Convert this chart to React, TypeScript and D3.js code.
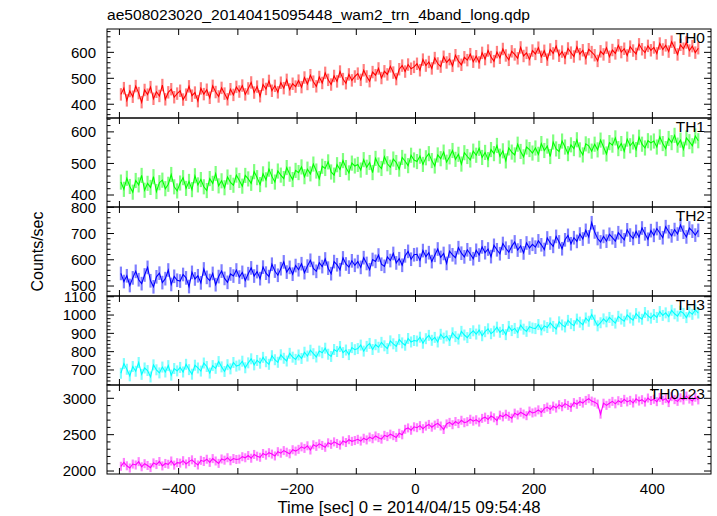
import React from "react";
import * as d3 from "d3";

const TITLE = "ae508023020_20140415095448_wam2_trn_4band_long.qdp";
const X_LABEL = "Time [sec] 0 = 2014/04/15 09:54:48";
const Y_LABEL = "Counts/sec";

// bin start times (5 s bins)
const TIMES: number[] = d3.range(-500, 476, 5);

const TH0 = [
  438, 462, 415, 451, 429, 470, 443, 408, 455, 437, 466, 421, 448, 432, 474, 419, 446, 458, 427, 441,
  452, 418, 437, 469, 433, 445, 412, 461, 439, 456, 425, 471, 447, 430, 463, 441, 419, 458, 436, 467,
  449, 472, 438, 461, 484, 445, 468, 431, 476, 459, 490, 452, 471, 446, 483, 462, 494, 457, 479, 468,
  491, 466, 503, 478, 512, 487, 469, 505, 482, 521, 494, 476, 509, 488, 526, 497, 481, 515, 492, 507,
  518, 494, 531, 507, 489, 524, 512, 538, 501, 527, 515, 546, 522, 497, 535, 549, 526, 553, 537, 544,
  556, 531, 572, 549, 563, 538, 578, 557, 545, 583, 561, 574, 548, 589, 566, 552, 581, 570, 593, 564,
  585, 561, 598, 574, 607, 582, 566, 601, 579, 613, 588, 571, 604, 592, 577, 619, 586, 598, 573, 607,
  594, 618, 583, 606, 572, 611, 596, 624, 587, 603, 578, 615, 599, 584, 621, 593, 608, 577, 612, 601,
  589, 567, 604, 592, 618, 583, 609, 596, 627, 601, 614, 588, 622, 607, 594, 631, 612, 599, 625, 608,
  619, 596, 634, 611, 627, 603, 641, 618, 592, 629, 614, 638, 607, 624, 599, 616,
];

const TH1 = [
  441, 418, 453, 427, 409, 446, 432, 462, 415, 437, 424, 458, 411, 439, 447, 420, 434, 465, 426, 413,
  438, 455, 421, 443, 417, 461, 432, 449, 426, 414, 452, 437, 468, 429, 445, 423, 457, 440, 431, 463,
  446, 428, 462, 451, 437, 474, 455, 433, 467, 448, 482, 459, 441, 476, 463, 452, 487, 466, 449, 478,
  471, 489, 458, 482, 467, 498, 476, 452, 491, 484, 505, 473, 463, 496, 481, 509, 487, 470, 501, 492,
  497, 479, 512, 488, 503, 471, 516, 495, 484, 521, 499, 488, 514, 503, 482, 519, 507, 493, 526, 511,
  506, 523, 497, 518, 531, 509, 492, 527, 515, 536, 504, 521, 541, 513, 529, 498, 534, 522, 511, 539,
  526, 548, 519, 535, 512, 544, 531, 557, 523, 540, 508, 549, 536, 527, 561, 538, 521, 552, 544, 533,
  549, 529, 563, 541, 555, 522, 568, 546, 538, 571, 552, 531, 559, 547, 575, 543, 527, 562, 556, 539,
  561, 543, 574, 552, 530, 566, 558, 581, 547, 563, 539, 577, 556, 568, 544, 583, 561, 549, 572, 565,
  571, 552, 584, 563, 547, 579, 566, 589, 558, 574, 545, 581, 569, 556, 587, 572,
];

const TH2 = [
  548, 517, 539, 502, 531, 556, 524, 509, 542, 571, 520, 497, 535, 549, 513, 528, 561, 506, 537, 522,
  519, 544, 531, 498, 552, 527, 539, 512, 565, 533, 521, 548, 505, 536, 557, 529, 514, 546, 538, 561,
  534, 552, 521, 547, 569, 538, 555, 528, 572, 549, 536, 583, 557, 541, 566, 592, 553, 571, 545, 578,
  562, 585, 551, 576, 598, 567, 556, 589, 574, 603, 568, 547, 593, 581, 562, 607, 584, 572, 596, 579,
  593, 571, 608, 586, 562, 601, 594, 618, 583, 575, 611, 597, 624, 588, 604, 579, 615, 632, 602, 619,
  621, 598, 635, 612, 627, 593, 617, 641, 609, 624, 586, 633, 619, 608, 646, 625, 611, 638, 622, 604,
  636, 618, 649, 627, 641, 612, 655, 638, 623, 662, 644, 629, 651, 668, 637, 653, 626, 664, 645, 659,
  648, 672, 657, 639, 683, 664, 651, 689, 668, 642, 676, 693, 661, 684, 670, 698, 679, 712, 687, 741,
  706, 681, 668, 689, 671, 697, 684, 671, 703, 689, 676, 714, 694, 681, 708, 686, 721, 699, 678, 711,
  693, 719, 702, 684, 726, 707, 691, 715, 698, 732, 705, 687, 721, 709, 694, 712,
];

const TH3 = [
  682, 735, 704, 668, 719, 693, 741, 676, 711, 697, 662, 728, 701, 684, 716, 689, 724, 672, 708, 695,
  714, 689, 731, 702, 677, 726, 711, 694, 738, 719, 683, 724, 709, 746, 717, 692, 729, 706, 741, 721,
  727, 748, 712, 739, 761, 728, 752, 737, 769, 745, 731, 778, 756, 742, 783, 764, 749, 791, 770, 758,
  782, 763, 797, 776, 808, 789, 771, 803, 794, 819, 786, 774, 812, 801, 828, 795, 809, 784, 822, 811,
  817, 836, 803, 829, 845, 812, 838, 824, 851, 832, 817, 859, 843, 829, 866, 848, 835, 872, 853, 861,
  858, 879, 846, 871, 889, 862, 878, 853, 895, 874, 886, 861, 903, 882, 869, 911, 891, 877, 899, 914,
  896, 918, 887, 909, 925, 898, 912, 934, 906, 921, 893, 938, 915, 927, 904, 945, 923, 911, 936, 929,
  926, 948, 919, 941, 932, 957, 938, 924, 963, 946, 935, 971, 953, 942, 978, 961, 947, 984, 966, 1003,
  972, 941, 958, 979, 963, 987, 971, 956, 993, 978, 966, 1001, 984, 972, 1008, 989, 977, 1014, 996, 983,
  1003, 987, 1019, 998, 1012, 991, 1026, 1007, 994, 1021, 1009, 986, 1017, 1004, 1028, 1011,
];

const TH0123 = [
  2065, 2118, 2072, 2041, 2096, 2083, 2129, 2058, 2101, 2076, 2047, 2112, 2089, 2131, 2070, 2104, 2093, 2138, 2081, 2115,
  2108, 2142, 2097, 2129, 2154, 2116, 2083, 2147, 2131, 2162, 2119, 2171, 2138, 2105, 2166, 2149, 2183, 2141, 2172, 2158,
  2164, 2197, 2182, 2213, 2176, 2228, 2204, 2189, 2241, 2218, 2252, 2233, 2207, 2266, 2245, 2281, 2259, 2237, 2293, 2274,
  2298, 2332, 2311, 2347, 2289, 2361, 2339, 2374, 2352, 2326, 2388, 2367, 2401, 2379, 2357, 2414, 2392, 2431, 2408, 2419,
  2436, 2412, 2451, 2428, 2467, 2444, 2482, 2459, 2438, 2491, 2473, 2507, 2486, 2462, 2519, 2498, 2574, 2593, 2561, 2608,
  2596, 2624, 2582, 2617, 2641, 2603, 2632, 2655, 2619, 2571, 2648, 2669, 2637, 2681, 2652, 2698, 2664, 2679, 2712, 2686,
  2705, 2673, 2724, 2741, 2709, 2756, 2732, 2692, 2768, 2745, 2781, 2753, 2727, 2796, 2771, 2808, 2784, 2761, 2824, 2799,
  2812, 2841, 2806, 2858, 2879, 2847, 2893, 2866, 2912, 2884, 2927, 2903, 2876, 2941, 2918, 2956, 2934, 2971, 2995, 2962,
  2947, 2921, 2782, 2933, 2903, 2931, 2958, 2924, 2967, 2943, 2986, 2951, 2972, 2935, 2993, 2962, 2981, 2948, 3004, 2969,
  2987, 2954, 3012, 2973, 2996, 2941, 3023, 2982, 2958, 3007, 2976, 3031, 2989, 2962, 3015, 2978,
];

const PANEL_NAMES = ["TH0", "TH1", "TH2", "TH3", "TH0123"];
const PANEL_SERIES = [TH0, TH1, TH2, TH3, TH0123];
const PANEL_COLORS = ["#ff0000", "#00ff00", "#0000ff", "#00ffff", "#ff00ff"];
const PANEL_DOMAINS: [number, number][] = [
  [347, 690],
  [362, 644],
  [462, 801],
  [618, 1104],
  [1959, 3183],
];
const PANEL_MAJOR = [
  [400, 500, 600],
  [400, 500, 600],
  [500, 600, 700, 800],
  [700, 800, 900, 1000, 1100],
  [2000, 2500, 3000],
];
const PANEL_MINOR_STEP = [20, 20, 20, 20, 100];
const PANEL_ERRORS = [24, 24, 26, 30, 62];

const X_DOMAIN: [number, number] = [-521, 499];
const X_TICKS = [-500, -400, -300, -200, -100, 0, 100, 200, 300, 400];
const X_TICK_LABELS = [-400, -200, 0, 200, 400];

const W = 717;
const H = 516;
const LEFT = 107;
const RIGHT = 711;
const TOP = 29;
const PANEL_H = 89;
const FONT = "'Liberation Sans', Arial, Helvetica, sans-serif";

function fmt(v: number) {
  return v < 0 ? "\u2212" + Math.abs(v) : String(v);
}

export default function App() {
  const x = d3.scaleLinear().domain(X_DOMAIN).range([LEFT, RIGHT]);
  const bottom = TOP + PANEL_H * PANEL_NAMES.length;

  return (
    <svg
      width={W}
      height={H}
      viewBox={`0 0 ${W} ${H}`}
      style={{ position: "absolute", left: 0, top: 0, background: "#fff" }}
      fontFamily={FONT}
    >
      <text x={LEFT} y={20} fontSize={15.5} fill="#000" textLength={423} lengthAdjust="spacingAndGlyphs">
        {TITLE}
      </text>
      {PANEL_NAMES.map((name, i) => {
        const top = TOP + i * PANEL_H;
        const bot = top + PANEL_H;
        const y = d3.scaleLinear().domain(PANEL_DOMAINS[i]).range([bot, top]);
        const data = PANEL_SERIES[i];
        const err = PANEL_ERRORS[i];
        const line = d3
          .line<number>()
          .x((_, k) => x(TIMES[k] + 2.5))
          .y((d) => y(d));
        const step = PANEL_MINOR_STEP[i];
        const minor = d3
          .range(Math.ceil(PANEL_DOMAINS[i][0] / step) * step, PANEL_DOMAINS[i][1] + 0.001, step)
          .filter((v) => !PANEL_MAJOR[i].includes(v));
        const clipId = `clip${i}`;
        return (
          <g key={name}>
            <defs>
              <clipPath id={clipId}>
                <rect x={LEFT} y={top} width={RIGHT - LEFT} height={PANEL_H} />
              </clipPath>
            </defs>
            <g clipPath={`url(#${clipId})`}>
              {data.map((d, k) => (
                <line
                  key={k}
                  x1={x(TIMES[k] + 2.5)}
                  x2={x(TIMES[k] + 2.5)}
                  y1={y(d - err)}
                  y2={y(d + err)}
                  stroke={PANEL_COLORS[i]}
                  strokeOpacity={0.5}
                  strokeWidth={2.2}
                />
              ))}
              <path d={line(data) || ""} fill="none" stroke={PANEL_COLORS[i]} strokeWidth={1.1} />
            </g>
            <rect x={LEFT} y={top} width={RIGHT - LEFT} height={PANEL_H} fill="none" stroke="#000" strokeWidth={1} />
            {X_TICKS.map((t) => (
              <g key={t}>
                <line x1={x(t)} x2={x(t)} y1={top} y2={top + 6} stroke="#000" />
                <line x1={x(t)} x2={x(t)} y1={bot} y2={bot - 6} stroke="#000" />
              </g>
            ))}
            {PANEL_MAJOR[i].map((v) => (
              <g key={v}>
                <line x1={LEFT} x2={LEFT + 7} y1={y(v)} y2={y(v)} stroke="#000" />
                <line x1={RIGHT} x2={RIGHT - 7} y1={y(v)} y2={y(v)} stroke="#000" />
                <text x={96} y={y(v)} dy="0.36em" textAnchor="end" fontSize={15} fill="#000">
                  {v}
                </text>
              </g>
            ))}
            {minor.map((v) => (
              <g key={"m" + v}>
                <line x1={LEFT} x2={LEFT + 3.5} y1={y(v)} y2={y(v)} stroke="#000" />
                <line x1={RIGHT} x2={RIGHT - 3.5} y1={y(v)} y2={y(v)} stroke="#000" />
              </g>
            ))}
            <text x={705} y={top + 14} textAnchor="end" fontSize={15.5} fill="#000">
              {name}
            </text>
          </g>
        );
      })}
      {X_TICK_LABELS.map((t) => (
        <text key={t} x={x(t)} y={bottom + 20} textAnchor="middle" fontSize={15} fill="#000">
          {fmt(t)}
        </text>
      ))}
      <text
        x={409}
        y={bottom + 39}
        textAnchor="middle"
        fontSize={16}
        fill="#000"
        textLength={263}
        lengthAdjust="spacingAndGlyphs"
      >
        {X_LABEL}
      </text>
      <text
        transform={`translate(43, ${(TOP + bottom) / 2}) rotate(-90)`}
        textAnchor="middle"
        fontSize={16}
        fill="#000"
      >
        {Y_LABEL}
      </text>
    </svg>
  );
}
